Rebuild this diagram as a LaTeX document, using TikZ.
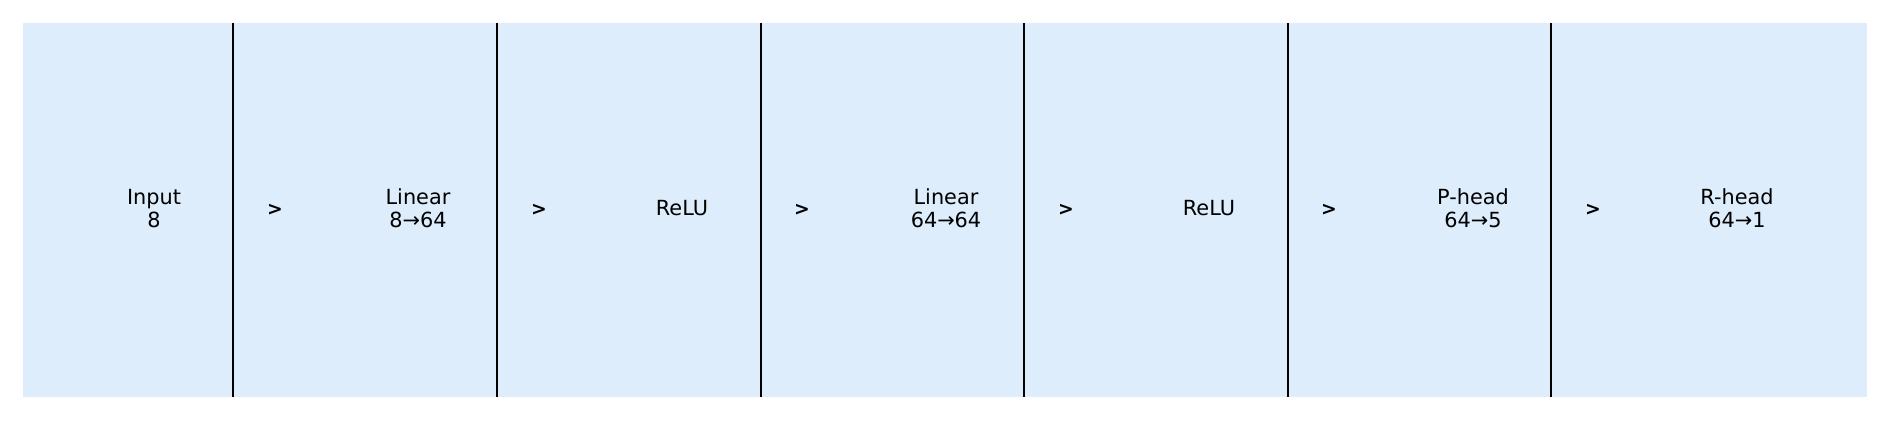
\documentclass[tikz,border=0pt]{standalone}
\usepackage{fontspec}
\setmainfont{DejaVu Sans}
\definecolor{layer blue}{RGB}{221,237,252}
\tikzstyle{layer}=[align=center, font=\fontsize{10}{11.2}\selectfont, inner sep=0pt]
\tikzstyle{flow}=[font=\fontsize{9}{10}\selectfont\bfseries, inner sep=0pt]
\tikzstyle{divider}=[black, line width=0.96pt]

\begin{document}
\begin{tikzpicture}[x=0.48pt, y=-0.48pt]
	\useasboundingbox (0,0) rectangle (1890,420);

	% Strip behind the layers
	\fill[layer blue] (23,23) rectangle (1867,397);

	% Dividers between the layers
	\foreach \x in {233, 497, 761, 1024, 1288, 1551}{ \draw[divider] (\x,23) -- (\x,397); }

	\node[layer] (input) at (154,208.5) {Input\\8};
	\node[layer] (lin1) at (418,208.5) {Linear\\8→64};
	\node[layer] (relu1) at (682,208.5) {ReLU};
	\node[layer] (lin2) at (946,208.5) {Linear\\64→64};
	\node[layer] (relu2) at (1209,208.5) {ReLU};
	\node[layer] (phead) at (1473,208.5) {P-head\\64→5};
	\node[layer] (rhead) at (1737,208.5) {R-head\\64→1};

	\foreach \x [count=\i] in {275, 539, 802, 1066, 1329, 1593}{ \node[flow] (flow\i) at (\x,210) {>}; }
\end{tikzpicture}
\end{document}
